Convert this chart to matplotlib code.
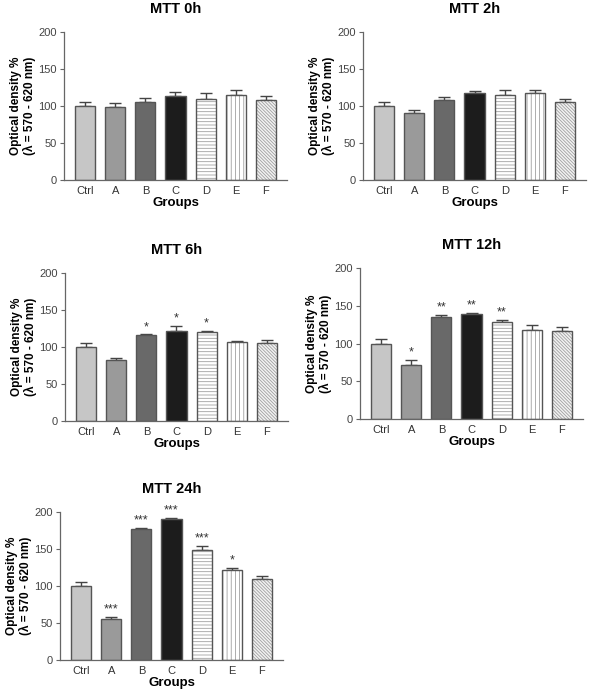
import numpy as np
import matplotlib
matplotlib.use('Agg')
import matplotlib.pyplot as plt

plt.rcParams['font.family'] = ['Liberation Sans', 'DejaVu Sans']
plt.rcParams['hatch.linewidth'] = 0.6

groups = ['Ctrl', 'A', 'B', 'C', 'D', 'E', 'F']
titles = ['MTT 0h', 'MTT 2h', 'MTT 6h', 'MTT 12h', 'MTT 24h']

# mean values (%) and SEM
mtt_0h = [100, 98, 105, 113, 110, 115, 108]
err_0h = [6, 6, 6, 6, 7, 6, 6]
mtt_2h = [100, 91, 108, 117, 115, 117, 106]
err_2h = [6, 4, 4, 3, 6, 5, 4]
mtt_6h = [100, 82, 116, 121, 120, 107, 106]
err_6h = [6, 3, 1, 7, 2, 1, 3]
mtt_12h = [100, 72, 135, 139, 129, 118, 116]
err_12h = [6, 6, 3, 2, 2, 6, 6]
mtt_24h = [100, 55, 177, 191, 148, 122, 109]
err_24h = [6, 3, 1, 1, 6, 3, 5]

stars_0h = ['', '', '', '', '', '', '']
stars_2h = ['', '', '', '', '', '', '']
stars_6h = ['', '', '*', '*', '*', '', '']
stars_12h = ['', '*', '**', '**', '**', '', '']
stars_24h = ['', '***', '***', '***', '***', '*', '']

fills = ['#c6c6c6', '#9a9a9a', '#696969', '#1c1c1c', 'white', 'white', '#f2f2f2']
hatches = [None, None, None, None, '-----', '||||', '\\' * 10]

# axes boxes in pixels: left, top, bottom
boxes = [(64, 32, 180), (363, 32, 180), (65, 273, 421), (360, 268, 419), (60, 512, 660)]
W, H = 591, 695
AX_W = 223


def draw_panel(fig, box, title, vals, errs, stars):
    left, top, bottom = box
    ax = fig.add_axes([left / W, 1 - bottom / H, AX_W / W, (bottom - top) / H])
    x = np.arange(len(groups))
    ax.errorbar(x, vals, yerr=[np.zeros(len(errs)), errs], fmt='none',
                ecolor='#444444', elinewidth=1, capsize=4, capthick=1, zorder=1)
    for i in range(len(groups)):
        if hatches[i]:
            ax.bar(x[i], vals[i], width=0.667, color=fills[i], hatch=hatches[i],
                   edgecolor='#a0a0a0', linewidth=0, zorder=2)
            ax.bar(x[i], vals[i], width=0.667, fill=False,
                   edgecolor='#555555', linewidth=1, zorder=3)
        else:
            ax.bar(x[i], vals[i], width=0.667, color=fills[i],
                   edgecolor='#555555', linewidth=1, zorder=2)
        if stars[i]:
            ax.text(x[i], vals[i] + errs[i] + 2, stars[i], ha='center', va='bottom',
                    fontsize=9, color='#333333')
    ax.set_xlim(-0.7, 6.7)
    ax.set_ylim(0, 200)
    ax.set_yticks([0, 50, 100, 150, 200])
    ax.set_xticks(x)
    ax.set_xticklabels(groups)
    ax.tick_params(axis='x', length=0, pad=4, labelsize=8, labelcolor='#333333')
    ax.tick_params(axis='y', length=3, width=0.8, color='#666666', pad=2,
                   labelsize=8, labelcolor='#444444')
    for s in ['top', 'right']:
        ax.spines[s].set_visible(False)
    for s in ['left', 'bottom']:
        ax.spines[s].set_color('#666666')
        ax.spines[s].set_linewidth(0.9)
    ax.set_title(title, fontsize=10.5, fontweight='bold', pad=14)
    ax.set_xlabel('Groups', fontsize=9.5, fontweight='bold', labelpad=1)
    ax.set_ylabel('Optical density %\n(λ = 570 - 620 nm)', fontsize=8.5,
                  fontweight='bold', labelpad=2, linespacing=1.1)
    return ax


def main():
    fig = plt.figure(figsize=(W / 100, H / 100), dpi=100)
    data = [(mtt_0h, err_0h, stars_0h), (mtt_2h, err_2h, stars_2h),
            (mtt_6h, err_6h, stars_6h), (mtt_12h, err_12h, stars_12h),
            (mtt_24h, err_24h, stars_24h)]
    for box, title, (v, e, s) in zip(boxes, titles, data):
        draw_panel(fig, box, title, v, e, s)
    fig.savefig('out.png', dpi=100, facecolor='white')


main()
